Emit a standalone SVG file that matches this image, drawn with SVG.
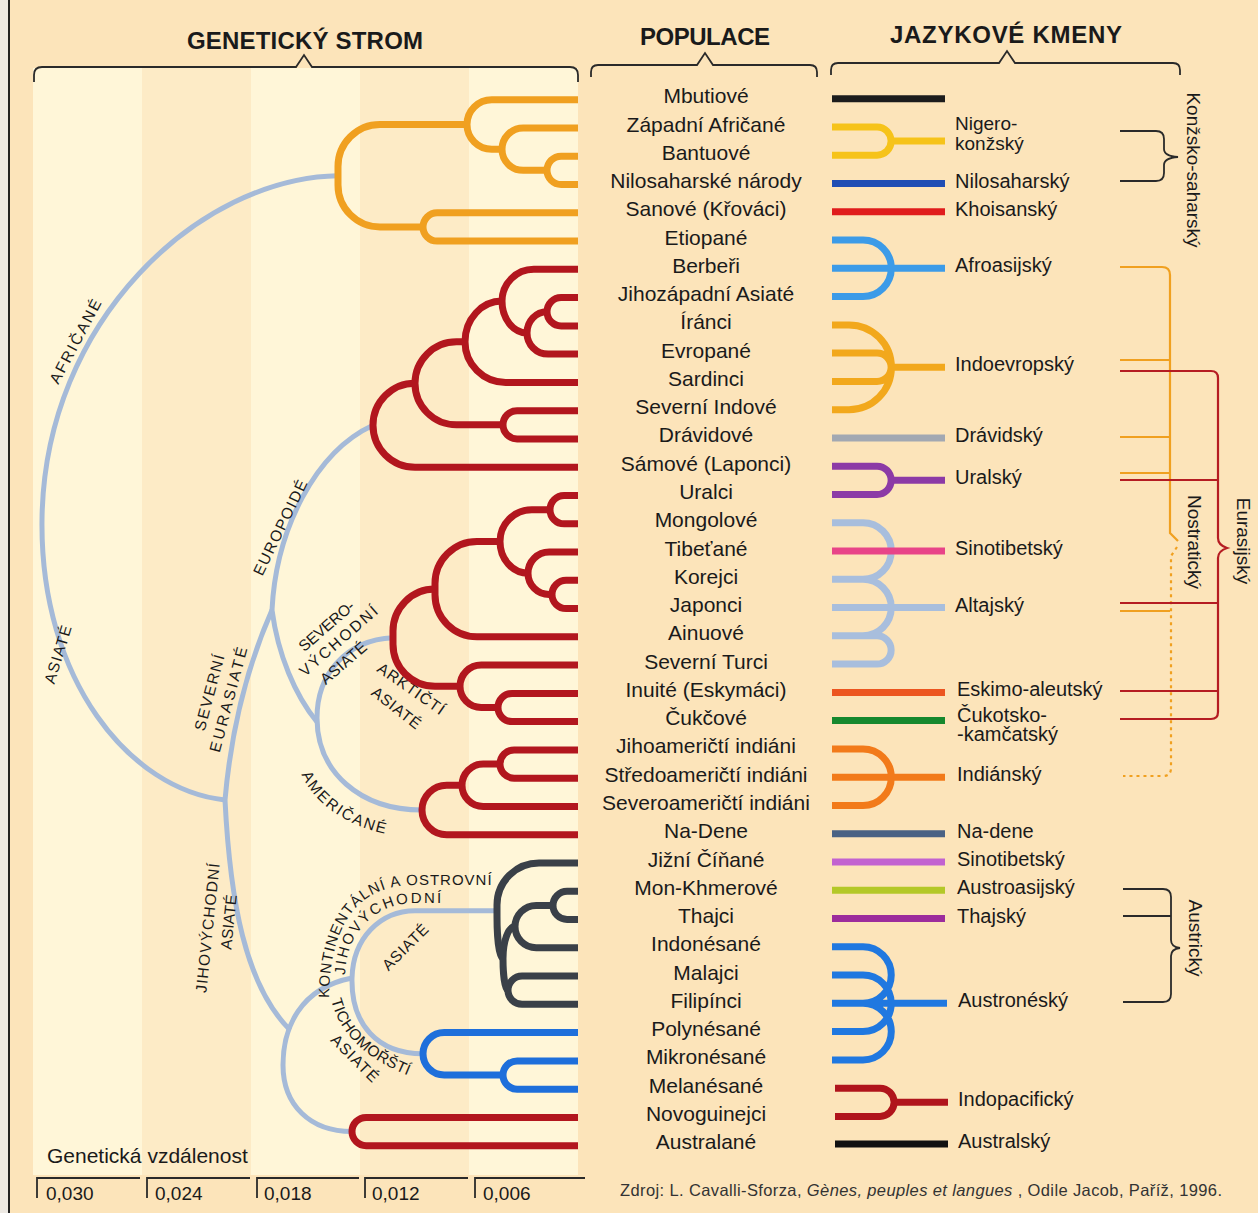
<svg xmlns="http://www.w3.org/2000/svg" width="1258" height="1213" viewBox="0 0 1258 1213">
<defs>
<style>
.t{font-family:"Liberation Sans",Arial,sans-serif;fill:#1a1a1a}
.hd{font-size:24px;font-weight:bold;text-anchor:middle}
.pop{font-size:21px;text-anchor:middle}
.lang{font-size:20px}
.gl{font-size:15.5px;text-anchor:middle}
.vt{font-size:19px;text-anchor:middle}
.br{fill:none;stroke:#2a2a2a;stroke-width:1.8}
.tr{fill:none;stroke-width:7}
.or{stroke:#F0A020}
.rd{stroke:#B2161E}
.dk{stroke:#3A4048}
.bl{stroke:#1E6FDB}
.gy{fill:none;stroke:#A5BAD8;stroke-width:5}
.lg{fill:none;stroke-width:7}
.thin{fill:none;stroke-width:2.2}
</style>
</defs>

<!-- background -->
<rect x="0" y="0" width="1258" height="1213" fill="#FCE4BA"/>
<rect x="0" y="0" width="8" height="1213" fill="#EDE9E3"/>
<line x1="9" y1="0" x2="9" y2="1213" stroke="#222" stroke-width="2"/>
<g id="stripes">
<rect x="33" y="68" width="109" height="1107" fill="#FFF6D8"/>
<rect x="142" y="68" width="109" height="1107" fill="#FDEBC6"/>
<rect x="251" y="68" width="109" height="1107" fill="#FFF6D8"/>
<rect x="360" y="68" width="109" height="1107" fill="#FDEBC6"/>
<rect x="469" y="68" width="109" height="1107" fill="#FFF6D8"/>
</g>

<!-- headers -->
<g id="headers">
<text class="t hd" x="305" y="49" textLength="236">GENETICKÝ STROM</text>
<text class="t hd" x="705" y="45" textLength="130">POPULACE</text>
<text class="t hd" x="1006" y="43" textLength="232">JAZYKOVÉ KMENY</text>
<path class="br" d="M34,82 V75 Q34,67 42,67 H296 L304,55 L312,67 H570 Q578,67 578,75 V82"/>
<path class="br" d="M591,77 V72 Q591,65 598,65 H697 L705,53 L713,65 H810 Q817,65 817,72 V77"/>
<path class="br" d="M831,75 V70 Q831,63 838,63 H999 L1007,51 L1015,63 H1173 Q1180,63 1180,70 V75"/>
</g>

<!-- gray tree connectors -->
<g id="connectors">
<path class="gy" d="M338,175.7 C200,178 44,320 42,520 C40,680 130,790 225,800"/>
<path class="gy" d="M225,800 C232,720 250,660 272,610"/>
<path class="gy" d="M272,610 C276,530 315,452 373,425.25"/>
<path class="gy" d="M272,610 C278,655 295,695 317,722"/>
<path class="gy" d="M393,637.7 C345,640 317,675 317,718 C317,772 360,810 422,810"/>
<path class="gy" d="M225,800 C230,900 245,985 290,1030"/>
<path class="gy" d="M352,978 C300,988 283,1028 283,1065 C283,1105 310,1131.55 352,1131.55"/>
<path class="gy" d="M497,910.7 H415 C380,911 353,938 352,978 C351,1025 378,1053.8 423,1053.8"/>
</g>

<!-- gray tree labels -->
<g id="tree-labels">
<text class="t gl" transform="translate(80,344) rotate(-62)" textLength="93">AFRIČANÉ</text>
<text class="t gl" transform="translate(63,656) rotate(-73)" textLength="60">ASIATÉ</text>
<text class="t gl" transform="translate(285,530) rotate(-64)" textLength="104">EUROPOIDÉ</text>
<text class="t gl" transform="translate(214.5,694) rotate(-75)" textLength="78">SEVERNÍ</text>
<text class="t gl" transform="translate(233.5,701) rotate(-75)" textLength="108">EURASIATÉ</text>
<text class="t gl" transform="translate(330,630) rotate(-41)" textLength="68">SEVERO-</text>
<text class="t gl" transform="translate(342,645) rotate(-41)" textLength="98">VÝCHODNÍ</text>
<text class="t gl" transform="translate(347,667) rotate(-41)" textLength="56">ASIATÉ</text>
<text class="t gl" transform="translate(408,693) rotate(35)" textLength="78">ARKTIČTÍ</text>
<text class="t gl" transform="translate(393,712) rotate(38)" textLength="58">ASIATÉ</text>
<path id="pAm" d="M297,762 C305,795 340,828 398,836" fill="none"/>
<text class="t gl" textLength="106"><textPath href="#pAm" startOffset="50%">AMERIČANÉ</textPath></text>
<text class="t gl" transform="translate(213,928.6) rotate(-84)" textLength="130">JIHOVÝCHODNÍ</text>
<text class="t gl" transform="translate(234,922.6) rotate(-84)" textLength="55">ASIATÉ</text>
<path id="pK1" d="M329,998 C330,915 365,885 415,885 L520,885" fill="none"/>
<text class="t" style="font-size:15px" textLength="238"><textPath href="#pK1">KONTINENTÁLNÍ A OSTROVNÍ</textPath></text>
<path id="pK2" d="M345,975 C346,932 376,903 415,903 L470,903" fill="none"/>
<text class="t" style="font-size:15px" textLength="138"><textPath href="#pK2">JIHOVÝCHODNÍ</textPath></text>
<text class="t gl" transform="translate(409,951) rotate(-45)" textLength="58">ASIATÉ</text>
<path id="pTi" d="M331,1000 C340,1035 368,1062 420,1080" fill="none"/>
<text class="t" style="font-size:15.5px" textLength="112"><textPath href="#pTi">TICHOMOŘŠTÍ</textPath></text>
<text class="t gl" transform="translate(351,1062) rotate(45)" textLength="60">ASIATÉ</text>
</g>

<!-- colored clades -->
<g id="clade-africa" class="tr or">
<path d="M578,156.2 H561.15 A14.15,14.15 0 0 0 547,170.35 A14.15,14.15 0 0 0 561.15,184.5 H578"/>
<path d="M578,128 H523.18 A21.18,21.18 0 0 0 502,149.18 A21.18,21.18 0 0 0 523.18,170.35 H547"/>
<path d="M578,99.7 H491.74 A24.74,24.74 0 0 0 467,124.44 A24.74,24.74 0 0 0 491.74,149.18 H502"/>
<path d="M578,212.8 H437.15 A14.15,14.15 0 0 0 423,226.95 A14.15,14.15 0 0 0 437.15,241.1 H578"/>
<path d="M467,124.44 H380 A42,42 0 0 0 338,166.44 V184.95 A42,42 0 0 0 380,226.95 H423"/>
</g>
<g id="clade-europoid" class="tr rd">
<path d="M578,297.6 H561.15 A14.15,14.15 0 0 0 547,311.75 A14.15,14.15 0 0 0 561.15,325.9 H578"/>
<path d="M547,311.75 A20,21.18 0 0 0 527,332.93 A21.18,21.18 0 0 0 548.18,354.1 H578"/>
<path d="M578,269.3 H533.8 A31.8,31.8 0 0 0 502,301.1 A25,31.83 0 0 0 527,332.93"/>
<path d="M502,301.1 A37,40.65 0 0 0 465,341.75 A40.65,40.65 0 0 0 505.65,382.4 H578"/>
<path d="M578,410.7 H517.1 A14.1,14.1 0 0 0 503,424.8 A14.1,14.1 0 0 0 517.1,438.9 H578"/>
<path d="M465,341.75 H456.5 A41.5,41.5 0 0 0 415,383.25 A41.5,41.55 0 0 0 456.5,424.8 H503"/>
<path d="M415,383.25 A42,42 0 0 0 373,425.25 A42,41.95 0 0 0 415,467.2 H578"/>
</g>
<g id="clade-northeast-asia" class="tr rd">
<path d="M578,495.5 H564.15 A14.15,14.15 0 0 0 550,509.65 A14.15,14.15 0 0 0 564.15,523.8 H578"/>
<path d="M578,580.3 H566.15 A14.15,14.15 0 0 0 552,594.45 A14.15,14.15 0 0 0 566.15,608.6 H578"/>
<path d="M578,552 H549.2 A21.2,21.2 0 0 0 528,573.2 A21.2,21.25 0 0 0 549.2,594.45 H552"/>
<path d="M550,509.65 H531.78 A31.78,31.78 0 0 0 500,541.43 A28,31.77 0 0 0 528,573.2"/>
<path d="M500,541.43 H477 A42,42 0 0 0 435,583.43 V594.8 A42,42 0 0 0 477,636.8 H578"/>
<path d="M578,693.4 H512.1 A14.1,14.1 0 0 0 498,707.5 A14.1,14.1 0 0 0 512.1,721.6 H578"/>
<path d="M578,665.1 H481.2 A21.2,21.2 0 0 0 460,686.3 A21.2,21.2 0 0 0 481.2,707.5 H498"/>
<path d="M435,589.1 A42,42 0 0 0 393,631.1 V644.3 A42,42 0 0 0 435,686.3 H460"/>
</g>
<g id="clade-americas" class="tr rd">
<path d="M578,749.9 H514.15 A14.15,14.15 0 0 0 500,764.05 A14.15,14.15 0 0 0 514.15,778.2 H578"/>
<path d="M500,764.05 H483.2 A21.2,21.2 0 0 0 462,785.25 A21.2,21.25 0 0 0 483.2,806.5 H578"/>
<path d="M462,785.3 H446.7 A24.7,24.7 0 0 0 422,810 A24.7,24.7 0 0 0 446.7,834.7 H578"/>
</g>
<g id="clade-southeast-asia" class="tr dk">
<path d="M578,891.3 H567.1 A14.1,14.1 0 0 0 553,905.4 A14.1,14.1 0 0 0 567.1,919.5 H578"/>
<path d="M553,905.4 H536.2 A21.2,21.2 0 0 0 515,926.6 A21.2,21.2 0 0 0 536.2,947.8 H578"/>
<path d="M578,976.1 H522.1 A14.1,14.1 0 0 0 508,990.2 A14.1,14.1 0 0 0 522.1,1004.3 H578"/>
<path d="M515,926.6 A12,31.8 0 0 0 503,958.4 A5,31.8 0 0 0 508,990.2"/>
<path d="M578,863 H539 A42,42 0 0 0 497,905 V916.4 A6,42 0 0 0 503,958.4"/>
</g>
<g id="clade-pacific" class="tr bl">
<path d="M578,1060.9 H517.15 A14.15,14.15 0 0 0 503,1075.05 A14.15,14.15 0 0 0 517.15,1089.2 H578"/>
<path d="M578,1032.6 H444.2 A21.2,21.2 0 0 0 423,1053.8 A21.2,21.25 0 0 0 444.2,1075.05 H503"/>
</g>
<g id="clade-australia" class="tr rd">
<path d="M578,1117.4 H366.15 A14.15,14.15 0 0 0 352,1131.55 A14.15,14.15 0 0 0 366.15,1145.7 H578"/>
</g>

<!-- scale -->
<g id="scale">
<text class="t" x="47" y="1163" style="font-size:21px">Genetická vzdálenost</text>
<path class="br" d="M37,1198 V1178 H140 M147,1198 V1178 H250 M257,1198 V1178 H359 M365,1198 V1178 H468 M475,1198 V1178 H585"/>
<text class="t" x="46" y="1200" style="font-size:19px">0,030</text>
<text class="t" x="155" y="1200" style="font-size:19px">0,024</text>
<text class="t" x="264" y="1200" style="font-size:19px">0,018</text>
<text class="t" x="372" y="1200" style="font-size:19px">0,012</text>
<text class="t" x="483" y="1200" style="font-size:19px">0,006</text>
</g>

<!-- populations -->
<g id="populations">
<g id="pop-00"><text class="t pop" x="706" y="103.2">Mbutiové</text></g>
<g id="pop-01"><text class="t pop" x="706" y="131.5">Západní Afričané</text></g>
<g id="pop-02"><text class="t pop" x="706" y="159.7">Bantuové</text></g>
<g id="pop-03"><text class="t pop" x="706" y="188">Nilosaharské národy</text></g>
<g id="pop-04"><text class="t pop" x="706" y="216.3">Sanové (Křováci)</text></g>
<g id="pop-05"><text class="t pop" x="706" y="244.6">Etiopané</text></g>
<g id="pop-06"><text class="t pop" x="706" y="272.8">Berbeři</text></g>
<g id="pop-07"><text class="t pop" x="706" y="301.1">Jihozápadní Asiaté</text></g>
<g id="pop-08"><text class="t pop" x="706" y="329.4">Íránci</text></g>
<g id="pop-09"><text class="t pop" x="706" y="357.6">Evropané</text></g>
<g id="pop-10"><text class="t pop" x="706" y="385.9">Sardinci</text></g>
<g id="pop-11"><text class="t pop" x="706" y="414.2">Severní Indové</text></g>
<g id="pop-12"><text class="t pop" x="706" y="442.4">Drávidové</text></g>
<g id="pop-13"><text class="t pop" x="706" y="470.7">Sámové (Laponci)</text></g>
<g id="pop-14"><text class="t pop" x="706" y="499">Uralci</text></g>
<g id="pop-15"><text class="t pop" x="706" y="527.3">Mongolové</text></g>
<g id="pop-16"><text class="t pop" x="706" y="555.5">Tibeťané</text></g>
<g id="pop-17"><text class="t pop" x="706" y="583.8">Korejci</text></g>
<g id="pop-18"><text class="t pop" x="706" y="612.1">Japonci</text></g>
<g id="pop-19"><text class="t pop" x="706" y="640.3">Ainuové</text></g>
<g id="pop-20"><text class="t pop" x="706" y="668.6">Severní Turci</text></g>
<g id="pop-21"><text class="t pop" x="706" y="696.9">Inuité (Eskymáci)</text></g>
<g id="pop-22"><text class="t pop" x="706" y="725.1">Čukčové</text></g>
<g id="pop-23"><text class="t pop" x="706" y="753.4">Jihoameričtí indiáni</text></g>
<g id="pop-24"><text class="t pop" x="706" y="781.7">Středoameričtí indiáni</text></g>
<g id="pop-25"><text class="t pop" x="706" y="810">Severoameričtí indiáni</text></g>
<g id="pop-26"><text class="t pop" x="706" y="838.2">Na-Dene</text></g>
<g id="pop-27"><text class="t pop" x="706" y="866.5">Jižní Číňané</text></g>
<g id="pop-28"><text class="t pop" x="706" y="894.8">Mon-Khmerové</text></g>
<g id="pop-29"><text class="t pop" x="706" y="923">Thajci</text></g>
<g id="pop-30"><text class="t pop" x="706" y="951.3">Indonésané</text></g>
<g id="pop-31"><text class="t pop" x="706" y="979.6">Malajci</text></g>
<g id="pop-32"><text class="t pop" x="706" y="1007.8">Filipínci</text></g>
<g id="pop-33"><text class="t pop" x="706" y="1036.1">Polynésané</text></g>
<g id="pop-34"><text class="t pop" x="706" y="1064.4">Mikronésané</text></g>
<g id="pop-35"><text class="t pop" x="706" y="1092.7">Melanésané</text></g>
<g id="pop-36"><text class="t pop" x="706" y="1120.9">Novoguinejci</text></g>
<g id="pop-37"><text class="t pop" x="706" y="1149.2">Australané</text></g>
</g>

<!-- language families -->
<g id="languages">
<g id="lang-mbuti"><path class="lg" stroke="#1c1c1c" d="M832,98.7 H945"/></g>
<g id="lang-nigero-konzsky">
<path class="lg" stroke="#F6C31A" d="M832,127 H877 A14.1,14.1 0 0 1 877,155.2 H832 M891,141.1 H945"/>
<text class="t" x="955" y="130" style="font-size:19px">Nigero-</text>
<text class="t" x="955" y="150" style="font-size:19px">konžský</text>
</g>
<g id="lang-nilosahara"><path class="lg" stroke="#1F4DB4" d="M832,183.5 H945"/><text class="t lang" x="955" y="187.5">Nilosaharský</text></g>
<g id="lang-khoisan"><path class="lg" stroke="#E01C1C" d="M832,211.8 H945"/><text class="t lang" x="955" y="215.8">Khoisanský</text></g>
<g id="lang-afroasijsky">
<path class="lg" stroke="#3C9BE8" d="M832,240 H863 A28.3,28.3 0 0 1 863,296.6 H832 M832,268.3 H945"/>
<text class="t lang" x="955" y="272.3">Afroasijský</text>
</g>
<g id="lang-indoevropsky">
<path class="lg" stroke="#F2A81C" d="M832,324.9 H849 A42.4,42.4 0 0 1 849,409.7 H832 M832,353.1 H877 A14.15,14.15 0 0 1 877,381.4 H832 M889,367.3 H945"/>
<text class="t lang" x="955" y="371.3">Indoevropský</text>
</g>
<g id="lang-dravidsky"><path class="lg" stroke="#A2A8B2" d="M832,437.9 H945"/><text class="t lang" x="955" y="441.9">Drávidský</text></g>
<g id="lang-uralsky">
<path class="lg" stroke="#8C3AA6" d="M832,466.2 H877 A14.15,14.15 0 0 1 877,494.5 H832 M891,480.35 H945"/>
<text class="t lang" x="955" y="484.3">Uralský</text>
</g>
<g id="lang-altajsky">
<path class="lg" stroke="#A8BEDD" d="M832,522.8 H863 A28.25,28.25 0 0 1 863,579.3 H832 M832,579.3 H863 A28.25,28.25 0 0 1 863,635.8 H832 M832,635.8 H877 A14.15,14.15 0 0 1 877,664.1 H832 M832,607.6 H945"/>
<text class="t lang" x="955" y="611.6">Altajský</text>
</g>
<g id="lang-sinotibetsky-1"><path class="lg" stroke="#E84488" d="M832,551 H945"/><text class="t lang" x="955" y="555">Sinotibetský</text></g>
<g id="lang-eskimo"><path class="lg" stroke="#EC5520" d="M832,692.4 H945"/><text class="t lang" x="957" y="696.4">Eskimo-aleutský</text></g>
<g id="lang-cukotsko">
<path class="lg" stroke="#16882E" d="M832,720.6 H945"/>
<text class="t lang" x="957" y="721.5">Čukotsko-</text>
<text class="t lang" x="957" y="741">-kamčatský</text>
</g>
<g id="lang-indiansky">
<path class="lg" stroke="#F27A1A" d="M832,748.9 H863 A28.3,28.3 0 0 1 863,805.5 H832 M832,777.2 H945"/>
<text class="t lang" x="957" y="781.2">Indiánský</text>
</g>
<g id="lang-nadene"><path class="lg" stroke="#4A6284" d="M832,833.7 H945"/><text class="t lang" x="957" y="837.7">Na-dene</text></g>
<g id="lang-sinotibetsky-2"><path class="lg" stroke="#C262D0" d="M832,862 H945"/><text class="t lang" x="957" y="866">Sinotibetský</text></g>
<g id="lang-austroasijsky"><path class="lg" stroke="#B4C828" d="M832,890.3 H945"/><text class="t lang" x="957" y="894.3">Austroasijský</text></g>
<g id="lang-thajsky"><path class="lg" stroke="#9C2C9C" d="M832,918.5 H945"/><text class="t lang" x="957" y="922.5">Thajský</text></g>
<g id="lang-austronesky">
<path class="lg" stroke="#2078E0" d="M832,946.8 H863 A28.25,28.25 0 0 1 863,1003.3 H832 M832,975.1 H863 A28.25,28.25 0 0 1 863,1031.6 H832 M832,1003.3 H863 A28.3,28.3 0 0 1 863,1059.9 H832 M832,1003.3 H947"/>
<text class="t lang" x="958" y="1007.3">Austronéský</text>
</g>
<g id="lang-indopacificky">
<path class="lg" stroke="#B0141C" d="M835,1088.2 H880 A14.1,14.1 0 0 1 880,1116.4 H835 M894,1102.3 H948"/>
<text class="t lang" x="958" y="1106.3">Indopacifický</text>
</g>
<g id="lang-australsky"><path class="lg" stroke="#111" d="M835,1144 H948"/><text class="t lang" x="958" y="1148">Australský</text></g>
</g>

<!-- superfamily brackets -->
<g id="group-konzsko-saharsky">
<path class="br" d="M1120,131 H1156 Q1164,131 1164,139 V149 Q1164,156 1178,157 Q1164,158 1164,165 V173 Q1164,181 1156,181 H1120"/>
<text class="t vt" transform="translate(1187,170) rotate(90)">Konžsko-saharský</text>
</g>
<g id="group-nostraticky">
<path class="thin" stroke="#F0A020" d="M1120,267 H1162 Q1170,267 1170,275 V533 L1178,541"/>
<path class="thin" stroke="#F0A020" stroke-dasharray="3,4" d="M1177,547 L1171,556 V768 Q1171,776 1163,776 H1123"/>
<path class="thin" stroke="#F0A020" d="M1120,360 H1170 M1120,437 H1170 M1120,473 H1170 M1120,611 H1170"/>
<text class="t vt" transform="translate(1188,542) rotate(90)">Nostratický</text>
</g>
<g id="group-eurasijsky">
<path class="thin" stroke="#B51C22" stroke-width="2.5" d="M1120,371 H1211 Q1218,371 1218,378 V538 Q1218,545 1227,548 Q1218,551 1218,558 V712 Q1218,719 1211,719 H1120 M1120,480 H1218 M1120,603 H1218 M1120,691 H1218"/>
<text class="t vt" transform="translate(1237,541) rotate(90)">Eurasijský</text>
</g>
<g id="group-austricky">
<path class="br" d="M1123,889 H1163 Q1171,889 1171,897 V940 Q1171,947 1180,948 Q1171,949 1171,956 V994 Q1171,1002 1163,1002 H1123 M1123,916 H1171"/>
<text class="t vt" transform="translate(1189,938) rotate(90)">Austrický</text>
</g>

<!-- source -->
<g id="source">
<text class="t" x="620" y="1196" style="font-size:16.5px;fill:#333" textLength="602">Zdroj: L. Cavalli-Sforza, <tspan style="font-style:italic">Gènes, peuples et langues</tspan> , Odile Jacob, Paříž, 1996.</text>
</g>
</svg>
